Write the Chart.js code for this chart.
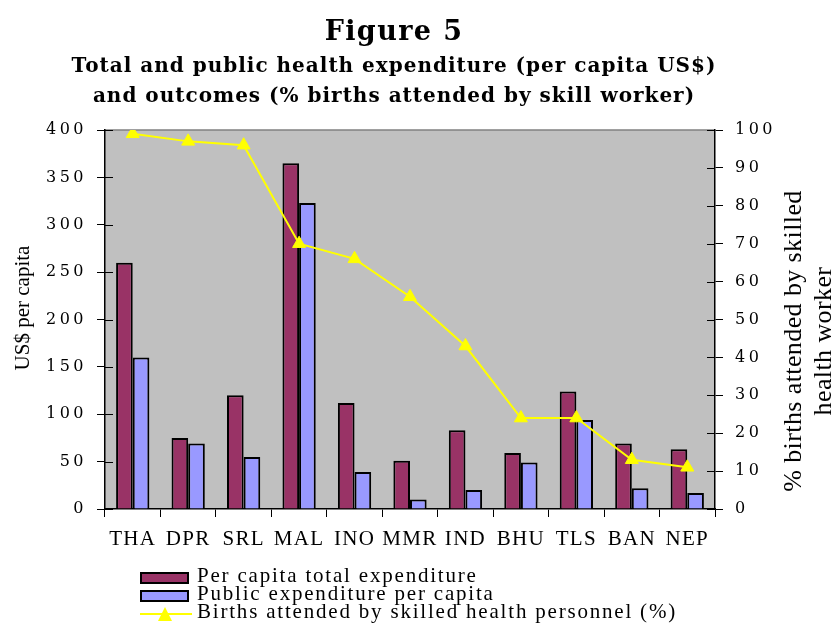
<!DOCTYPE html>
<html>
<head>
<meta charset="utf-8">
<script src="https://cdn.jsdelivr.net/npm/chart.js@4"></script>
<style>
  html, body { margin: 0; padding: 0; background: #fff; }
  #wrap { position: relative; width: 835px; height: 623px; overflow: hidden; }
  #c { position: absolute; left: 0; top: 0; }
  .t { position: absolute; left: 0; width: 788px; text-align: center; font-family: "DejaVu Serif", serif; font-weight: bold; color: #000; white-space: nowrap; }
  #t1 { top: 17px; font-size: 27px; line-height: 27px; letter-spacing: 1.4px; }
  #t2 { top: 50px; font-size: 20px; letter-spacing: 1px; line-height: 30px; }
  #lt { position: absolute; left: 22px; top: 308px; width: 200px; transform: translate(-50%, -50%) rotate(-90deg); text-align: center; font-family: "Liberation Serif", serif; font-size: 21px; line-height: 24px; color: #000; white-space: nowrap; }
  #rt { position: absolute; left: 808px; top: 341px; width: 360px; transform: translate(-50%, -50%) rotate(-90deg); text-align: center; font-family: "Liberation Serif", serif; font-size: 26px; line-height: 30px; letter-spacing: 0.4px; color: #000; white-space: nowrap; }
  .lg { position: absolute; left: 140px; font-family: "Liberation Serif", serif; font-size: 21px; letter-spacing: 1.8px; color: #000; white-space: nowrap; }
  .lg .box { position: absolute; left: 0; width: 45px; height: 8px; border: 2px solid #000; }
  .lg .txt { position: absolute; left: 57px; line-height: 21px; }
</style>
</head>
<body>
<div id="wrap">
  <canvas id="c" width="835" height="623"></canvas>
  <div class="t" id="t1">Figure 5</div>
  <div class="t" id="t2">Total and public health expenditure (per capita US$)<br>and outcomes (% births attended by skill worker)</div>
  <div id="lt">US$ per capita</div>
  <div id="rt">% births attended by skilled<br>health worker</div>
  <div class="lg" style="top:572px"><div class="box" style="background:#993366"></div><div class="txt" style="top:-7px">Per capita total expenditure</div></div>
  <div class="lg" style="top:590px"><div class="box" style="background:#9999FF"></div><div class="txt" style="top:-7px">Public expenditure per capita</div></div>
  <div class="lg" style="top:605px">
    <svg style="position:absolute;left:0;top:0" width="54" height="18"><line x1="0" y1="9" x2="52" y2="9" stroke="#FFFF00" stroke-width="2"/><polygon points="25,2 32,16 18,16" fill="#FFFF00"/></svg>
    <div class="txt" style="top:-4px">Births attended by skilled health personnel (%)</div>
  </div>
</div>
<script>
const categories = ["THA", "DPR", "SRL", "MAL", "INO", "MMR", "IND", "BHU", "TLS", "BAN", "NEP"];
const totalExpenditure = [260, 75, 120, 365, 112, 51, 83, 59, 124, 69, 63];
const publicExpenditure = [160, 69, 55, 323, 39, 10, 20, 49, 94, 22, 17];
const birthsAttended = [99, 97, 96, 70, 66, 56, 43, 24, 24, 13, 11];
const leftTicks = [0, 50, 100, 150, 200, 250, 300, 350, 400];
const rightTicks = [0, 10, 20, 30, 40, 50, 60, 70, 80, 90, 100];

const plotBg = {
  id: 'plotBg',
  beforeDraw(chart) {
    const {ctx, chartArea: a} = chart;
    ctx.save();
    ctx.fillStyle = '#C0C0C0';
    ctx.fillRect(a.left, a.top, a.right - a.left, a.bottom - a.top);
    ctx.strokeStyle = '#808080';
    ctx.lineWidth = 1.5;
    ctx.beginPath();
    ctx.moveTo(a.left, a.top);
    ctx.lineTo(a.right, a.top);
    ctx.stroke();
    ctx.restore();
  }
};

// tick marks that also cross into the plot area, as in the reference
const innerTicks = {
  id: 'innerTicks',
  afterDraw(chart) {
    const {ctx, chartArea: a} = chart;
    ctx.save();
    ctx.strokeStyle = '#000';
    ctx.lineWidth = 1;
    ctx.beginPath();
    chart.scales.y.ticks.forEach(t => {
      const py = Math.round(chart.scales.y.getPixelForValue(t.value)) + 0.5;
      ctx.moveTo(a.left, py); ctx.lineTo(a.left + 8, py);
    });
    chart.scales.y1.ticks.forEach(t => {
      const py = Math.round(chart.scales.y1.getPixelForValue(t.value)) + 0.5;
      ctx.moveTo(a.right - 8, py); ctx.lineTo(a.right, py);
    });
    ctx.stroke();
    ctx.restore();
  }
};

const spacing = {
  id: 'spacing',
  afterUpdate(chart) {
    const sp = {x: '1.3px', y: '3.5px', y1: '3.5px'};
    Object.keys(sp).forEach(id => {
      const s = chart.scales[id];
      if (s && !s._spPatched) {
        const orig = s.drawLabels.bind(s);
        s.drawLabels = function(area) {
          const ctx = this.ctx;
          ctx.save();
          ctx.letterSpacing = sp[id];
          orig(area);
          ctx.restore();
        };
        s._spPatched = true;
      }
    });
  }
};

const tickFromList = (list) => function(scale) {
  scale.ticks = list.map(v => ({value: v}));
};

new Chart(document.getElementById('c'), {
  type: 'bar',
  data: {
    labels: categories,
    datasets: [
      {
        type: 'line',
        label: 'Births attended by skilled health personnel (%)',
        data: birthsAttended,
        yAxisID: 'y1',
        borderColor: '#FFFF00',
        backgroundColor: '#FFFF00',
        borderWidth: 2,
        pointStyle: 'triangle',
        pointRadius: 7.5,
        pointBorderWidth: 1,
        pointBackgroundColor: '#FFFF00',
        pointBorderColor: '#FFFF00',
        tension: 0,
        order: 0
      },
      {
        label: 'Per capita total expenditure',
        data: totalExpenditure,
        yAxisID: 'y',
        backgroundColor: '#993366',
        borderColor: '#000000',
        borderWidth: 2,
        categoryPercentage: 0.6,
        barPercentage: 1.0,
        order: 1
      },
      {
        label: 'Public expenditure per capita',
        data: publicExpenditure,
        yAxisID: 'y',
        backgroundColor: '#9999FF',
        borderColor: '#000000',
        borderWidth: 2,
        categoryPercentage: 0.6,
        barPercentage: 1.0,
        order: 1
      }
    ]
  },
  options: {
    responsive: false,
    animation: false,
    layout: { padding: { top: 130, left: 0, right: 0, bottom: 0 } },
    plugins: {
      legend: { display: false },
      title: { display: false },
      tooltip: { enabled: false }
    },
    scales: {
      x: {
        afterFit(s) { s.height = 114; },
        grid: { display: true, drawOnChartArea: false, offset: true, tickLength: 8, color: '#000', tickColor: '#000', lineWidth: 1 },
        border: { display: true, color: '#000', width: 1.5 },
        ticks: { color: '#000', padding: 10, font: { family: 'Liberation Serif', size: 21 }, maxRotation: 0, autoSkip: false }
      },
      y: {
        position: 'left',
        min: 0, max: 400,
        afterBuildTicks: tickFromList(leftTicks),
        afterFit(s) { s.width = 105; },
        grid: { display: true, drawOnChartArea: false, tickLength: 8, color: '#000', tickColor: '#000', lineWidth: 1 },
        border: { display: true, color: '#000', width: 1.5 },
        ticks: { color: '#000', padding: 10, font: { family: 'DejaVu Serif', size: 16 } }
      },
      y1: {
        position: 'right',
        min: 0, max: 100,
        afterBuildTicks: tickFromList(rightTicks),
        afterFit(s) { s.width = 120; },
        grid: { display: true, drawOnChartArea: false, tickLength: 8, color: '#000', tickColor: '#000', lineWidth: 1 },
        border: { display: true, color: '#000', width: 1.5 },
        ticks: { color: '#000', padding: 12, font: { family: 'DejaVu Serif', size: 16 } }
      }
    }
  },
  plugins: [plotBg, innerTicks, spacing]
});
</script>
</body>
</html>
